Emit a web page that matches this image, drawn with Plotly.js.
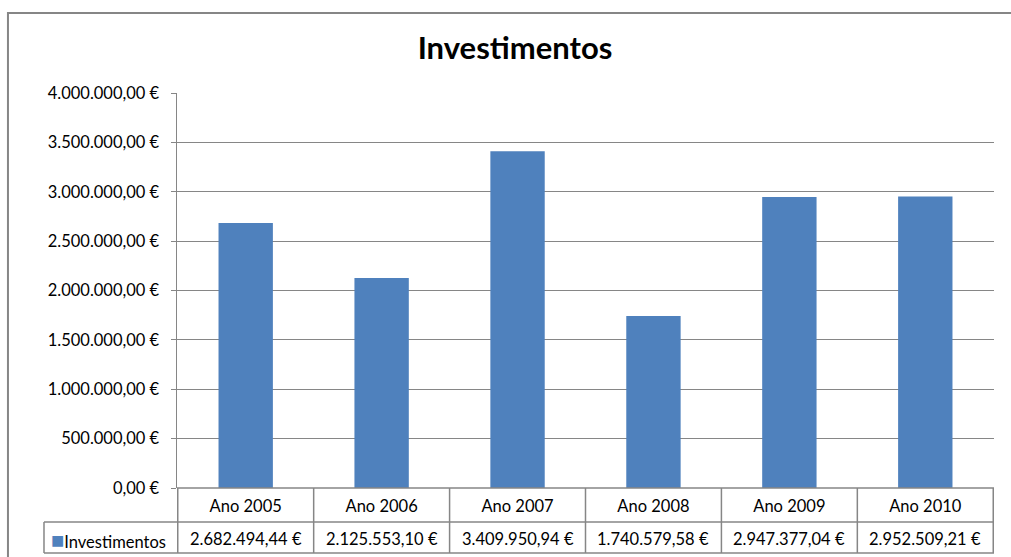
<!DOCTYPE html>
<html>
<head>
<meta charset="utf-8">
<script src="https://cdn.plot.ly/plotly-3.0.1.min.js"></script>
<style>html,body{margin:0;padding:0;background:#fff;}#chart{width:1011px;height:557px;}</style>
</head>
<body>
<div id="chart"></div>
<script>
const categories = ['Ano 2005', 'Ano 2006', 'Ano 2007', 'Ano 2008', 'Ano 2009', 'Ano 2010'];
const seriesName = 'Investimentos';
const investimentos = [2682494.44, 2125553.10, 3409950.94, 1740579.58, 2947377.04, 2952509.21];
const yTickVals = [0, 500000, 1000000, 1500000, 2000000, 2500000, 3000000, 3500000, 4000000];

function fmtEuro(v) {
  const parts = v.toFixed(2).split('.');
  const intPart = parts[0].replace(/\B(?=(\d{3})+(?!\d))/g, '.');
  return intPart + ',' + parts[1] + ' €';
}
const yTickText = yTickVals.map(fmtEuro);

const FONT = 'Lato, "Open Sans", sans-serif';
const GRID = '#868686';
const BAR = '#4F81BD';
const FS = 16.5;

// paper coordinates of the data-table rows (below the plot area)
const row1 = -0.0861, row2 = -0.1646, legendLeft = -0.1628;

const shapes = [];
// outer chart border
shapes.push({type:'rect', xref:'paper', yref:'paper', x0:-0.2069, x1:1.2, y0:-0.3, y1:1.2025,
  line:{color:GRID, width:2}, fillcolor:'rgba(0,0,0,0)', layer:'below'});
// table horizontal lines
shapes.push({type:'line', xref:'paper', yref:'paper', x0:0, x1:1, y0:0, y1:0, line:{color:GRID, width:1.5}});
shapes.push({type:'line', xref:'paper', yref:'paper', x0:legendLeft, x1:1, y0:row1, y1:row1, line:{color:GRID, width:1.5}});
shapes.push({type:'line', xref:'paper', yref:'paper', x0:legendLeft, x1:1, y0:row2, y1:row2, line:{color:GRID, width:1.5}});
shapes.push({type:'line', xref:'paper', yref:'paper', x0:legendLeft, x1:legendLeft, y0:row1, y1:row2, line:{color:GRID, width:1.5}});
// table vertical lines at category boundaries
for (let i = 0; i <= categories.length; i++) {
  shapes.push({type:'line', xref:'x', yref:'paper', x0:i-0.5, x1:i-0.5, y0:0, y1:row2, line:{color:GRID, width:1.5}});
}

const annotations = investimentos.map((v, i) => ({
  xref:'x', yref:'paper', x:categories[i], y:(row1+row2)/2 - 0.004, text:fmtEuro(v), showarrow:false,
  font:{family:FONT, size:FS, color:'#000'}, xanchor:'center', yanchor:'middle'
}));
annotations.push({
  xref:'paper', yref:'paper', x:legendLeft + 0.006, y:(row1+row2)/2 - 0.004,
  text:'<span style="color:' + BAR + ';font-size:22px">■</span>' + seriesName, showarrow:false,
  font:{family:FONT, size:FS, color:'#000'}, xanchor:'left', yanchor:'middle'
});

const data = [{
  type:'bar', x:categories, y:investimentos, name:seriesName,
  marker:{color:BAR}, hoverinfo:'x+y'
}];

const layout = {
  width:1011, height:557,
  margin:{l:177, r:17, t:93, b:69},
  paper_bgcolor:'#fff', plot_bgcolor:'#fff',
  title:{text:'<b>Investimentos</b>', x:515/1011, xref:'container', xanchor:'center',
    y:1-48/557, yref:'container', yanchor:'middle', font:{family:FONT, size:31, color:'#000'}},
  showlegend:false,
  bargap:0.6,
  font:{family:FONT, size:FS, color:'#000'},
  xaxis:{type:'category', showgrid:false, showline:false, zeroline:false, ticks:'',
    tickfont:{family:FONT, size:FS, color:'#000'}, ticklabelstandoff:6},
  yaxis:{range:[0, 4000000], tickvals:yTickVals, ticktext:yTickText, showgrid:true, gridcolor:GRID, gridwidth:1,
    zeroline:false, showline:true, linecolor:GRID, linewidth:1.5, ticks:'outside', ticklen:5, tickcolor:GRID,
    tickfont:{family:FONT, size:FS, color:'#000'}, ticklabelstandoff:8},
  shapes:shapes,
  annotations:annotations
};

Plotly.newPlot('chart', data, layout, {displayModeBar:false, staticPlot:true});
</script>
</body>
</html>
